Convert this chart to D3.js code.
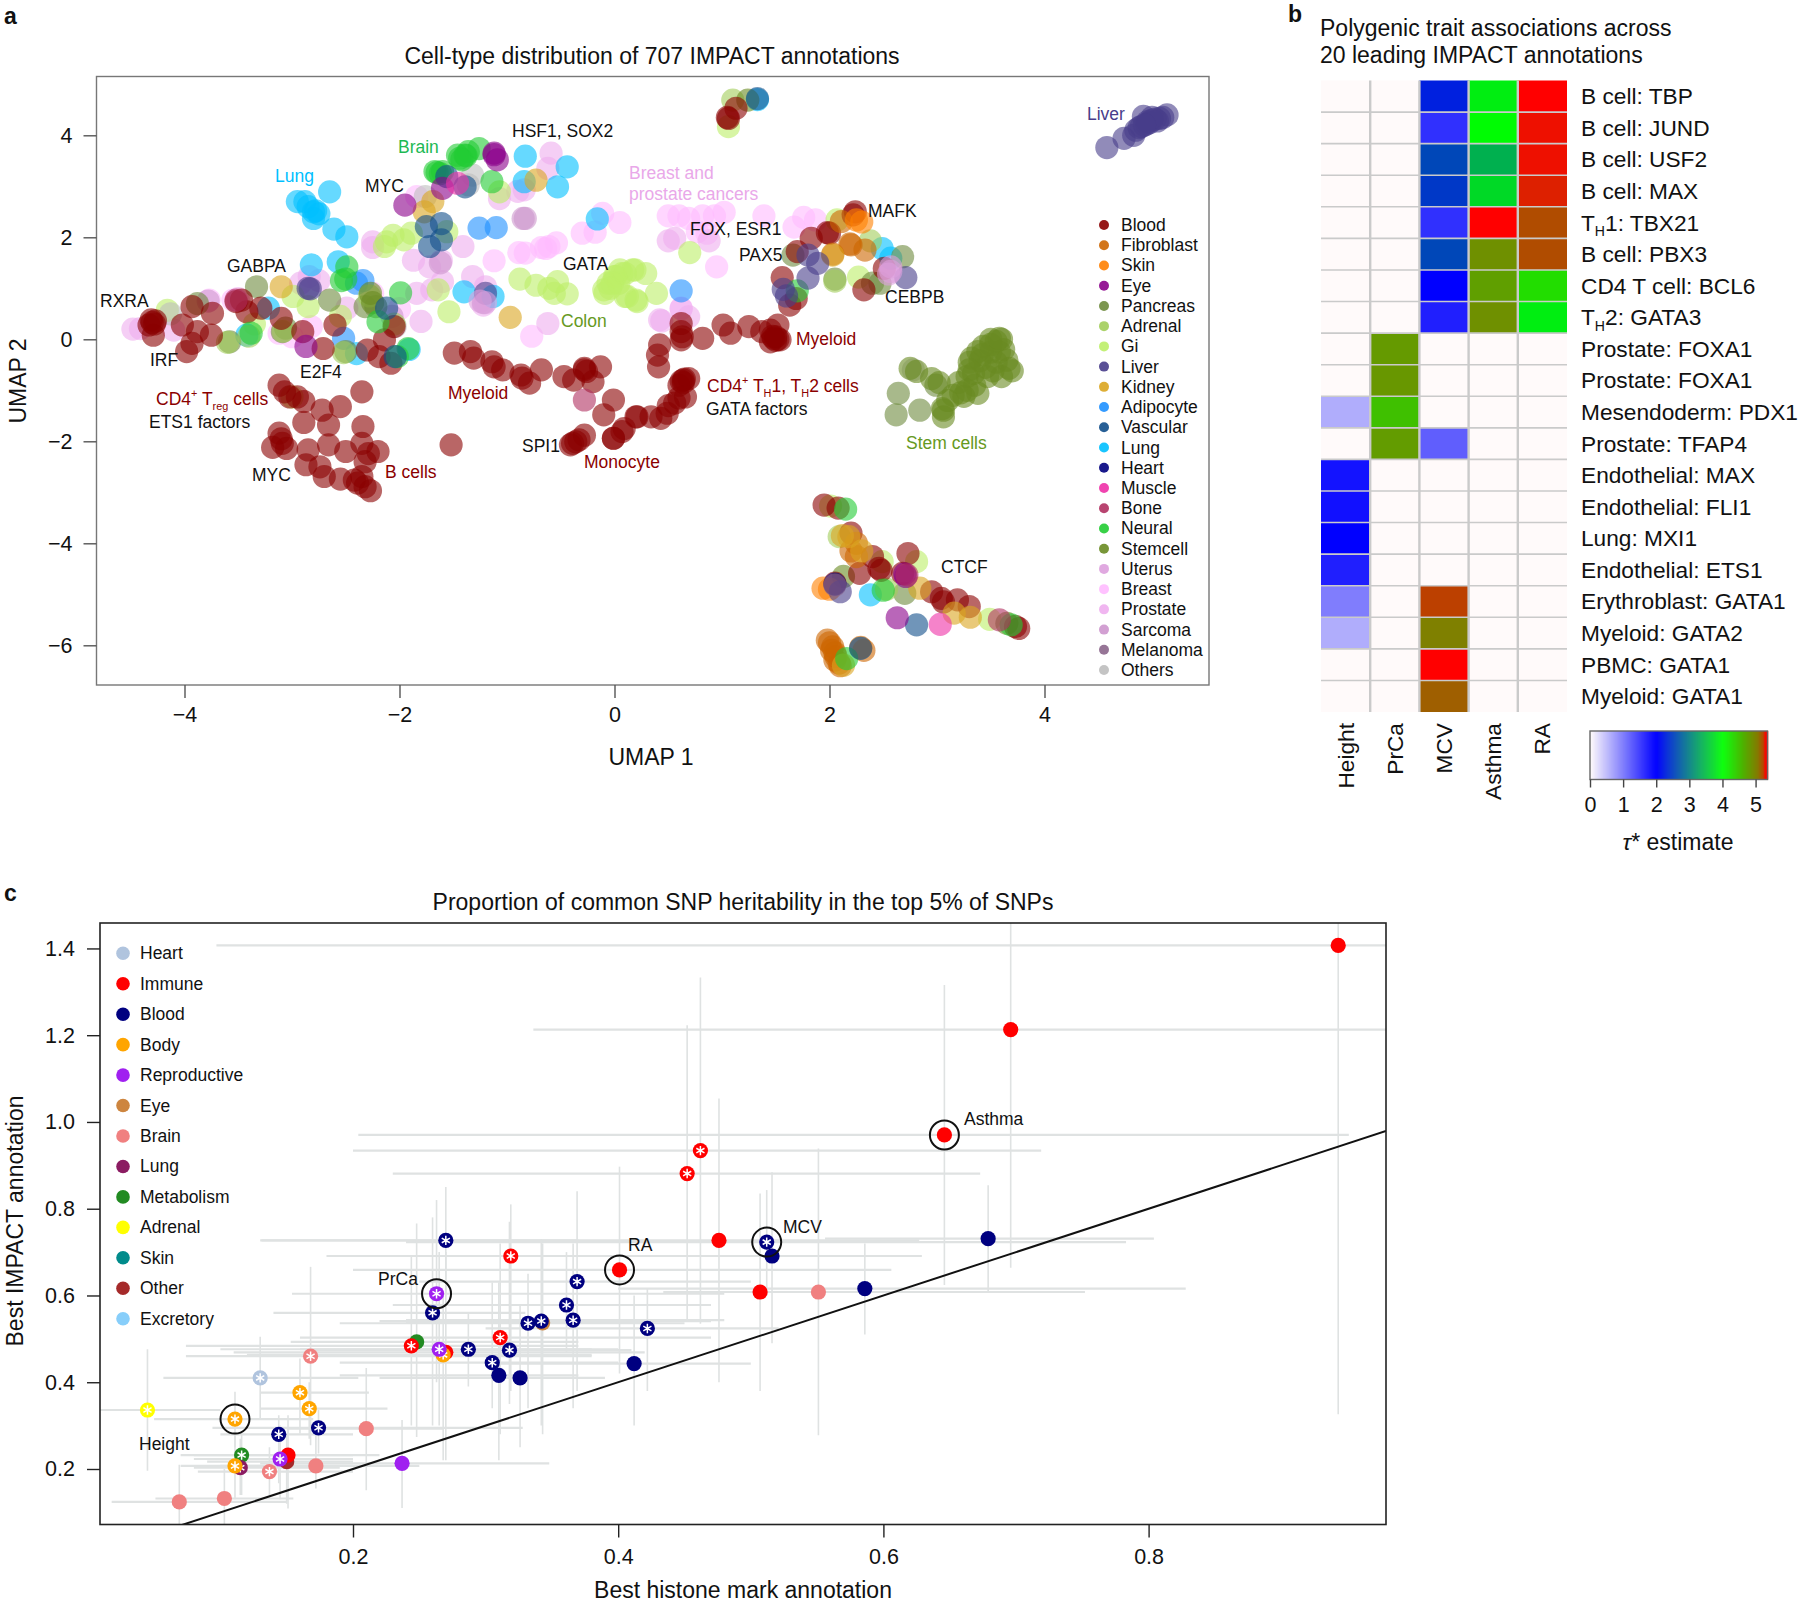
<!DOCTYPE html>
<html><head><meta charset="utf-8">
<script src="https://cdn.jsdelivr.net/npm/d3@7"></script>
<style>
html,body{margin:0;padding:0;background:#fff}
svg{display:block}
text{font-family:"Liberation Sans",Arial,sans-serif;fill:#111}
</style></head><body>
<svg id="chart" width="1800" height="1604"></svg>
<script>
// ---------- panel a: UMAP values by tissue ----------
const umapNames=["Blood","Fibroblast","Skin","Eye","Pancreas","Adrenal","Gi","Liver","Kidney","Adipocyte","Vascular","Lung","Heart","Muscle","Bone","Neural","Stemcell","Uterus","Breast","Prostate","Sarcoma","Melanoma","Others"];
const umapColors=["#8B0000","#CD6600","#FF8000","#8B008B","#6E8B3D","#A2CD5A","#BCEE68","#483D8B","#DAA520","#1E90FF","#104E8B","#00BFFF","#000080","#EE30A7","#B03060","#22CC33","#698B22","#DDA0DD","#FFBBFF","#EEAEEE","#CD96CD","#8B668B","#BEBEBE"];
const breast=[[-1.12,1.54],[-.89,1.70],[-.83,1.69],[-.68,1.80],[-.64,1.78],[-.61,1.82],[-.54,1.89],[-.30,2.08],[-.18,2.10],[.05,2.29],[-.11,2.47],[-.77,.06],[-1.84,2.8],[-3.77,.77],[-3.55,.77],[-3.12,.12],[-2.82,.25],[-3.0,.05],[.5,2.42],[.6,2.42],[.69,2.37],[.82,2.42],[.93,2.42],[1.02,2.49],[1.39,2.42],[1.76,2.39],[1.87,2.34],[1.67,2.2],[.95,1.42],[.77,2.11],[.86,2.08],[.62,.61],[-2.25,.9],[-2.0,.6]];
const prostate=[[-.59,3.65],[-.62,3.35],[-.84,2.93],[-1.07,2.76],[-.62,.31],[-1.32,1.23],[-1.22,.67],[-1.2,1.03],[-1.41,1.82],[-1.61,1.54],[-1.72,1.42],[-1.87,1.55],[-2.25,1.91],[-2.25,1.8],[-1.8,.35],[-1.84,.9],[-1.7,.97],[-1.6,1.13],[-2.49,.61],[-4.41,.21],[-4.48,.2],[-2.84,1.23],[-2.92,1.1],[-2.75,1.15],[-4.1,.18],[.5,1.93],[.56,1.98],[.88,1.93],[.42,.38],[.44,.36],[.62,.6],[.69,.44],[-.9,2.9],[-3.5,.8]];
const sarcoma=[[-.83,2.37],[-.85,2.37],[-1.62,1.5],[-1.22,.72],[-2.07,.45],[-3.78,.75]];
const gi=[[-.88,1.18],[-.73,1.06],[-.61,1.0],[-.53,1.13],[-.56,.9],[-.44,.89],[-1.54,.54],[-.1,.97],[-.06,1.1],[.0,1.23],[.07,1.29],[.17,1.36],[.29,1.29],[.2,.77],[.1,.84],[-.09,.9],[.04,1.1],[.12,.84],[.21,.74],[.39,.9],[.05,1.36],[.19,1.36],[.01,1.23],[.1,1.29],[-.02,1.1],[-.04,1.0],[-2.12,1.91],[-2.06,2.04],[-1.89,2.08],[-1.96,1.95],[-1.56,2.11],[-2.14,1.82],[-4.16,.57],[-2.99,.84],[-2.85,.64],[-1.07,2.89],[-1.64,.97],[.7,1.7],[2.07,2.34],[2.27,1.22],[-3.0,-1.13],[-2.55,.45],[-3.35,.3],[2.49,-4.36],[2.81,-4.36],[3.49,-5.49],[2.01,-3.27],[1.06,4.17]];
const stemcell=[[2.75,-.57],[2.81,-.63],[2.95,-.77],[3.02,-.85],[3.32,-.37],[3.38,-.24],[3.43,-.14],[3.5,.0],[3.6,.0],[3.55,-.04],[3.65,-.41],[3.67,-.57],[3.6,-.73],[3.47,-.73],[3.34,-.67],[3.28,-.73],[3.5,-.25],[3.4,-.42],[3.58,-.25],[3.25,-1.12],[3.38,-1.06],[3.06,-1.39],[3.06,-1.52],[3.05,-1.36],[3.22,-1.05],[3.3,-.45],[3.45,-.55],[3.55,-.45],[3.2,-.85],[3.1,-1.2],[3.35,-.9],[3.62,-.2],[3.52,-.62],[3.42,-.3],[3.5,-.1],[3.58,.02],[3.3,-.6],[3.7,-.62],[3.15,-1.1],[3.28,-1.0],[1.24,4.69],[3.65,-5.57],[2.13,-4.65],[-2.27,.9],[-2.25,.72]];
const pancreas=[[-3.33,1.03],[-3.58,-.05],[-2.65,.77],[-2.32,.64],[-2.22,.64],[-3.09,.15],[-3.06,.22],[-2.5,-.24],[2.05,1.18],[2.68,1.62],[2.4,1.1],[2.47,1.1],[-3.88,.7],[1.66,1.65],[2.64,-1.06],[2.62,-1.48],[2.84,-1.39],[2.99,-.9],[2.7,-4.98]];
const adrenal=[[-2.28,.85],[-3.08,.16],[-2.52,-.26],[2.38,1.93],[1.1,4.69],[2.05,1.14],[2.09,-3.87],[2.53,-4.9],[-2.05,.3],[-3.6,-.06],[-3.4,.06]];
const blood=[[-4.31,.38],[-4.33,.28],[-4.29,.08],[-4.28,.3],[-4.3,.33],[-4.27,.36],[-3.93,.64],[-3.74,.51],[-4.02,.28],[-3.98,-.24],[-3.93,-.08],[-3.88,.15],[-3.75,.08],[-3.52,.74],[-3.47,.77],[-3.42,.54],[-3.29,.61],[-3.1,.41],[-2.9,.15],[-2.71,-.18],[-2.6,.28],[-2.3,-.21],[-2.14,-.01],[-2.19,-.34],[-2.08,-.47],[-2.05,.25],
[-1.49,-.27],[-1.34,-.24],[-1.31,-.37],[-1.14,-.44],[-1.12,-.54],[-1.04,-.60],[-.87,-.70],[-.86,-.76],[-.68,-.6],[-.79,-.86],[-.47,-.73],[-.38,-.8],[-.28,-.57],[-.26,-.63],[-.28,-.6],[-.13,-.54],[-.2,-.83],[-.01,-1.19],[-.1,-1.48],[.2,-1.52],[-.01,-1.94],[.07,-1.81],
[-.41,-2.07],[-.36,-2.01],[-.28,-1.88],[-.39,-2.04],[-.33,-1.97],
[-3.12,-.9],[-3.07,-1.03],[-3.02,-1.13],[-2.95,-1.13],[-2.89,-1.22],[-2.35,-1.03],[-2.72,-1.39],[-2.55,-1.32],[-2.89,-1.63],[-2.66,-1.68],[-2.34,-1.71],[-1.52,-2.07],[-3.12,-1.84],[-3.09,-2.04],[-3.18,-2.12],[-3.05,-2.14],[-3.1,-1.95],[-2.85,-2.17],[-2.66,-2.07],[-2.5,-2.2],[-2.35,-2.04],[-2.29,-2.24],[-2.2,-2.2],[-2.32,-2.4],[-2.87,-2.46],[-2.74,-2.5],[-2.7,-2.69],[-2.55,-2.74],[-2.42,-2.76],[-2.39,-2.82],[-2.32,-2.89],[-2.27,-2.97],[-2.35,-2.69],
[1.13,4.53],[1.05,4.35],[1.06,4.33],[2.24,2.5],[2.22,2.44],[1.98,2.09],[2.0,2.08],[1.83,1.98],[1.7,1.72],[1.56,1.21],[1.63,.67],[1.69,.8],[2.32,.97],[2.51,1.39],
[1.01,.28],[1.08,.12],[1.25,.25],[1.37,.15],[1.45,.18],[1.52,.28],[1.54,-.01],[1.48,.02],[1.45,-.05],[1.5,.05],[1.5,-.02],[1.52,.0],[1.47,.06],[.82,.02],[.62,.31],[.62,.15],[.62,-.01],[.63,.05],[.42,-.11],[.4,-.31],[.41,-.54],[.64,-.8],[.69,-.77],[.62,-.82],[.6,-.9],[.64,-.85],[.65,-.78],
[.56,-1.25],[.49,-1.45],[.43,-1.55],[.34,-1.52],[.21,-1.52],[.09,-1.75],[-.01,-1.94],[.66,-1.13],[.6,-1.15],[.5,-1.3],
[1.95,-3.25],[2.08,-3.31],[2.2,-3.8],[2.4,-4.26],[2.46,-4.49],[2.48,-4.53],[2.28,-4.59],[2.73,-4.2],[2.68,-4.59],[2.95,-4.95],[3.04,-5.08],[3.06,-5.15],[3.19,-5.11],[3.3,-5.24],[3.76,-5.67],[3.73,-5.63],[2.05,-4.78]];
const fibroblast=[[2.11,2.31],[2.19,1.87],[2.03,1.67],[2.33,1.75],[2.2,1.85],[2.25,-4.0],[2.25,-4.26],[2.2,-4.15],[1.98,-5.9],[2.0,-5.95],[2.03,-6.03],[2.05,-6.29],[2.09,-6.35],[2.05,-6.15],[2.06,-6.22],[2.02,-6.1],[2.1,-6.4],[2.32,-6.1]];
const skin=[[2.25,2.34],[2.3,2.3],[1.94,-4.88],[2.29,-6.04],[2.0,-4.9]];
const kidney=[[-3.1,1.03],[-.97,.43],[-1.69,2.7],[-1.77,2.5],[-.73,3.12],[2.03,1.65],[2.18,-3.87],[2.12,-3.85],[2.84,-4.88],[3.16,-5.37],[3.31,-5.45],[2.13,-6.39],[2.3,-4.15]];
const adipocyte=[[-1.26,2.18],[-1.1,2.19],[-2.34,1.15],[-2.52,.02],[.62,.95],[-2.4,1.1],[2.29,-6.05]];
const lung=[[-2.65,2.89],[-2.95,2.70],[-2.88,2.70],[-2.85,2.60],[-2.80,2.50],[-2.75,2.46],[-2.80,2.37],[-2.78,2.52],[-2.61,2.16],[-2.49,2.01],[-.16,2.36],[-.83,3.59],[-.53,2.99],[-.84,3.09],[-1.40,.93],[-1.13,.84],[-2.82,1.46],[-2.57,1.52],[-2.40,-.28],[-1.91,-.20],[-3.22,.61],[-3.42,.08],[-.44,3.38],[1.33,4.70],[2.49,1.78],[2.57,1.59],[2.38,-5.01]];
const neural=[[-1.26,3.74],[-1.39,3.61],[-1.46,3.61],[-1.36,3.68],[-1.38,3.6],[-1.44,3.55],[-1.67,3.29],[-1.6,3.29],[-1.65,3.27],[-1.62,3.25],[-1.42,3.52],[-1.14,3.09],[-1.99,.91],[-2.54,1.15],[-2.49,1.42],[-2.2,.345],[-3.38,.12],[-1.92,-.18],[-2.02,-.34],[2.15,-3.33],[2.16,-6.26],[2.5,-4.92],[3.69,-5.6],[1.7,.95],[-2.5,1.18]];
const vascular=[[-1.61,2.27],[-1.75,2.21],[-1.61,1.95],[-1.72,1.82],[-1.56,3.19],[-1.39,2.99],[-2.04,-.34],[-2.12,.61],[1.33,4.72],[2.81,-5.6],[2.29,-6.06]];
const liver=[[4.58,3.76],[4.74,3.94],[4.83,4.0],[4.9,4.17],[4.96,4.27],[5.0,4.3],[5.07,4.33],[5.14,4.4],[4.92,4.37],[4.88,4.15],[4.98,4.25],[5.03,4.32],[5.05,4.28],[5.1,4.35],[4.95,4.22],[4.85,4.1],[5.0,4.35],[4.93,4.2],[-2.83,.99],[-2.85,1.0],[1.8,1.65],[1.89,1.49],[1.8,1.2],[1.57,.98],[1.6,.85],[2.71,1.21],[-1.2,.9],[2.1,-4.95]];
const eye=[[-1.95,2.63],[-1.12,3.65],[-1.09,3.52],[-1.12,3.62],[-2.87,-.14],[-1.6,2.96],[2.71,-4.65],[2.63,-5.46],[2.7,-4.6]];
const heart=[[2.05,-4.8]];
const muscle=[[-1.46,3.06],[3.03,-5.59]];
const bone=[[-.28,-1.19],[-3.52,.77],[2.72,-4.62],[3.58,-5.5]];
const uterus=[[2.57,1.33],[2.57,1.42],[2.55,1.28],[-1.25,.75],[-1.2,.72]];
const melanoma=[[2.05,-4.82]];
const others=[[-1.76,2.8],[-1.32,3.22],[-1.36,3.03],[-2.04,.25],[-4.13,.5],[2.78,-.6]];
// drawing order of the tissue groups
const umapLayers=[["Breast",breast],["Prostate",prostate],["Sarcoma",sarcoma],["Gi",gi],["Others",others],["Lung",lung],["Adipocyte",adipocyte],["Pancreas",pancreas],["Adrenal",adrenal],["Stemcell",stemcell],["Blood",blood],["Fibroblast",fibroblast],["Skin",skin],["Kidney",kidney],["Neural",neural],["Vascular",vascular],["Liver",liver],["Eye",eye],["Heart",heart],["Muscle",muscle],["Bone",bone],["Uterus",uterus],["Melanoma",melanoma]];
const umapXTicks=[-4,-2,0,2,4], umapYTicks=[-6,-4,-2,0,2,4];

// ---------- panel b ----------
const traits=["Height","PrCa","MCV","Asthma","RA"];
const annotations=[["B cell: TBP"],["B cell: JUND"],["B cell: USF2"],["B cell: MAX"],["T","H","1: TBX21"],["B cell: PBX3"],["CD4 T cell: BCL6"],["T","H","2: GATA3"],["Prostate: FOXA1"],["Prostate: FOXA1"],["Mesendoderm: PDX1"],["Prostate: TFAP4"],["Endothelial: MAX"],["Endothelial: FLI1"],["Lung: MXI1"],["Endothelial: ETS1"],["Erythroblast: GATA1"],["Myeloid: GATA2"],["PBMC: GATA1"],["Myeloid: GATA1"]];
const tauHeight=[0,0,0,0,0,0,0,0,0,0,.62,0,1.85,1.87,2,1.75,1,.62,0,0];
const tauPrCa=[0,0,0,0,0,0,0,0,4.8,4.82,4.5,4.78,0,0,0,0,0,0,0,0];
const tauMCV=[2.25,1.62,2.56,2.44,1.62,2.56,2,1.75,0,0,0,1.25,0,0,0,0,5.24,5.0,5.32,5.14];
const tauAsthma=[3.87,3.98,3.38,3.7,5.32,4.88,4.76,4.88,0,0,0,0,0,0,0,0,0,0,0,0];
const tauRA=[5.32,5.275,5.275,5.25,5.2,5.2,4.27,3.87,0,0,0,0,0,0,0,0,0,0,0,0];
const tauColumns=[tauHeight,tauPrCa,tauMCV,tauAsthma,tauRA];
const tauStops=[0,2,4,5.05,5.24,5.25,5.3,5.36];
const tauStopColors=["#fffafa","#0000ff","#00ff00","#857a00","#bc4000","#dd2000","#ff0000","#ff0000"];
const tauTicks=[0,1,2,3,4,5];

// ---------- panel c: [histone, impact, xLow, xHigh, yLow, yHigh, significant] ----------
const tissueNames=["Heart","Immune","Blood","Body","Reproductive","Eye","Brain","Lung","Metabolism","Adrenal","Skin","Other","Excretory"];
const tissueColors=["#B0C4DE","#FF0000","#000080","#FFA500","#A020F0","#CD853F","#F08080","#8B1C62","#228B22","#FFFF00","#008B8B","#A52A2A","#87CEFA"];
const heartSnp=[[.130,.410,.057,.204,.313,.505,1]];
const immuneSnp=[[.943,1.407,.097,1.1,.326,1.6,0],[.696,1.213,.336,1.1,.664,1.6,0],[.646,.970,.204,.951,.624,1.316,0],[.462,.934,.2,.719,.535,1.333,1],[.452,.881,.23,.673,.543,1.223,1],[.476,.727,.131,.627,.40,1.054,0],[.507,.608,.434,.738,.38,.835,0],[.401,.659,.2,.606,.42,.897,0],[.319,.691,.18,.46,.38,.81,1],[.311,.503,.16,.47,.28,.72,1],[.244,.484,.074,.37,.30,.69,1],[.27,.469,.11,.42,.22,.70,0],[.151,.232,.08,.22,.109,.324,0]];
const bloodSnp=[[.512,.723,.24,.783,.6,.843,1],[.516,.691,.25,.629,.49,.884,0],[.679,.731,.556,.804,.608,.854,0],[.586,.616,.4,.828,.51,.72,0],[.422,.524,.3,.521,.38,.615,1],[.412,.443,.3,.5,.30,.60,0],[.369,.632,.25,.50,.38,.84,1],[.361,.578,.23,.47,.47,.70,1],[.366,.543,.24,.48,.34,.72,1],[.342,.541,.22,.47,.30,.73,1],[.332,.536,.19,.45,.34,.65,1],[.326,.410,.22,.39,.25,.58,0],[.318,.474,.17,.41,.35,.77,1],[.310,.416,.19,.37,.22,.63,0],[.305,.445,.19,.40,.34,.63,1],[.287,.476,.16,.38,.39,.56,1],[.270,.727,.13,.37,.60,.85,1],[.260,.560,.14,.33,.30,.78,1],[.174,.295,.094,.328,.236,.336,1],[.144,.280,.1,.2,.167,.324,1]];
const bodySnp=[[.268,.463,.12,.38,.22,.60,1],[.160,.376,.13,.212,.282,.455,1],[.167,.339,.13,.226,.27,.40,1],[.111,.315,.05,.17,.25,.378,1],[.111,.207,.07,.2,.13,.28,1]];
const reproSnp=[[.263,.604,.154,.48,.40,.82,1],[.265,.476,.10,.40,.30,.70,1],[.237,.213,.13,.348,.11,.313,0],[.145,.223,.08,.2,.13,.30,1]];
const eyeSnp=[[.343,.537,.24,.42,.28,.72,0]];
const brainSnp=[[.551,.608,.44,.752,.278,.939,0],[.168,.460,.074,.38,.255,.666,1],[.210,.293,.15,.268,.151,.433,0],[.137,.194,.083,.2,.14,.25,1],[.172,.207,.1,.25,.155,.282,0],[.069,.124,.018,.15,.073,.21,0],[.103,.132,.051,.155,.073,.2,0]];
const lungSnp=[[.115,.203,.08,.19,.14,.27,1]];
const metabolismSnp=[[.248,.493,.153,.37,.274,.766,0],[.116,.232,.07,.2,.14,.282,1]];
const adrenalSnp=[[.045,.336,.0,.1,.196,.476,1]];
const otherSnp=[[.150,.217,.09,.2,.12,.28,0]];
const snpLayers=[["Heart",heartSnp],["Other",otherSnp],["Eye",eyeSnp],["Metabolism",metabolismSnp],["Brain",brainSnp],["Adrenal",adrenalSnp],["Immune",immuneSnp],["Blood",bloodSnp],["Lung",lungSnp],["Body",bodySnp],["Reproductive",reproSnp]];
const circled=[[.646,.970],[.512,.723],[.401,.659],[.263,.604],[.111,.315]];
const snpXTicks=[.2,.4,.6,.8], snpYTicks=[.2,.4,.6,.8,1,1.2,1.4];

// ---------- drawing ----------
const svg=d3.select("#chart");
const SANS=17.5, BIG=23, TICK=21.5;
const umapColor=d3.scaleOrdinal(umapNames,umapColors);
const tissueColor=d3.scaleOrdinal(tissueNames,tissueColors);
const text=(g,x,y,s,o={})=>g.append("text").attr("x",x).attr("y",y).attr("font-size",o.size||SANS).attr("text-anchor",o.anchor||"start").attr("font-weight",o.weight||null).attr("dominant-baseline","central").style("fill",o.fill||"#111").text(s);

function axisStyle(g,col){
  g.select(".domain").remove();
  g.selectAll(".tick line").attr("stroke",col).attr("stroke-width",1.4);
  g.selectAll(".tick text").attr("font-size",TICK).style("font-family",'"Liberation Sans",Arial,sans-serif').style("fill","#111");
}
// --- a ---
const ua={l:96.5,r:1209,t:76.5,b:685};
const ux=d3.scaleLinear().domain([(ua.l-614.5)/107.5,(ua.r-614.5)/107.5]).range([ua.l,ua.r]);
const uy=d3.scaleLinear().domain([(339.3-ua.b)/51,(339.3-ua.t)/51]).range([ua.b,ua.t]);
const ga=svg.append("g");
umapLayers.forEach(([name,pts])=>{
  ga.append("g").selectAll("circle").data(pts).join("circle")
    .attr("cx",d=>ux(d[0])).attr("cy",d=>uy(d[1])).attr("r",11.6)
    .attr("fill",umapColor(name)).attr("fill-opacity",.6);
});
ga.append("rect").attr("x",ua.l).attr("y",ua.t).attr("width",ua.r-ua.l).attr("height",ua.b-ua.t).attr("fill","none").attr("stroke","#777").attr("stroke-width",1.4);
const axA=ga.append("g").attr("transform",`translate(0,${ua.b})`).call(d3.axisBottom(ux).tickValues(umapXTicks).tickSize(13).tickPadding(9).tickFormat(d3.format("d")));
axisStyle(axA,"#555");
const ayA=ga.append("g").attr("transform",`translate(${ua.l},0)`).call(d3.axisLeft(uy).tickValues(umapYTicks).tickSize(13).tickPadding(11).tickFormat(d3.format("d")));
axisStyle(ayA,"#555");
text(ga,652,56,"Cell-type distribution of 707 IMPACT annotations",{size:BIG,anchor:"middle"});
text(ga,651,757,"UMAP 1",{size:BIG,anchor:"middle"});
ga.append("text").attr("transform","translate(18,381) rotate(-90)").attr("text-anchor","middle").attr("dominant-baseline","central").attr("font-size",BIG).text("UMAP 2");
// legend a
umapNames.forEach((n,i)=>{
  const y=225+i*20.23;
  ga.append("circle").attr("cx",1104).attr("cy",y).attr("r",5).attr("fill",umapColor(n)).attr("fill-opacity",.9);
  text(ga,1121,y,n);
});
// labels a
const BK="#111",DR="#8B0000",GR="#669922";
[["Liver",1087,114,"#483D8B"],["HSF1, SOX2",512,131,BK],["Brain",398,147,"#1DB954"],["Lung",275,176,"#00BFFF"],["MYC",365,186,BK],["Breast and",629,173,"#E9A8E9"],["prostate cancers",629,194,"#E9A8E9"],["MAFK",868,211,BK],["FOX, ESR1",690,229,BK],["PAX5",739,255,BK],["GABPA",227,266,BK],["GATA",563,264,BK],["CEBPB",885,297,BK],["RXRA",100,301,BK],["Colon",561,321,GR],["IRF",150,360,BK],["E2F4",300,372,BK],["Myeloid",796,339,DR],["Myeloid",448,393,DR],["ETS1 factors",149,422,BK],["GATA factors",706,409,BK],["Stem cells",906,443,GR],["SPI1",522,446,BK],["Monocyte",584,462,DR],["MYC",252,475,BK],["B cells",385,472,DR],["CTCF",941,567,BK]]
 .forEach(([s,x,y,c])=>text(ga,x,y,s,{fill:c}));
function subLabel(g,x,y,parts,fill,size){
  const t=g.append("text").attr("x",x).attr("y",y).attr("font-size",size).attr("dominant-baseline","central").style("fill",fill);
  parts.forEach(([s,mode])=>{
    const sp=t.append("tspan").text(s);
    if(mode==="sup") sp.attr("font-size",size*.62).attr("dy",-size*.32);
    else if(mode==="sub") sp.attr("font-size",size*.62).attr("dy",size*.38);
    else if(mode==="up") sp.attr("dy",size*.32);
    else if(mode==="dn") sp.attr("dy",-size*.38);
  });
}
subLabel(ga,156,399,[["CD4"],["+","sup"],[" T","up"],["reg","sub"],[" cells","dn"]],DR,SANS);
subLabel(ga,707,386,[["CD4"],["+","sup"],[" T","up"],["H","sub"],["1, T","dn"],["H","sub"],["2 cells","dn"]],DR,SANS);

// --- b ---
const gb=svg.append("g");
const bx=d3.scaleBand().domain(traits).range([1321,1567]);
const by=d3.scaleBand().domain(d3.range(annotations.length)).range([80.5,712]);
const tauColor=d3.scaleLinear().domain(tauStops).range(tauStopColors);
const gridC="#cacaca";
traits.forEach((t,c)=>{
  gb.append("g").selectAll("rect").data(tauColumns[c]).join("rect")
    .attr("x",bx(t)).attr("y",(d,i)=>by(i)).attr("width",bx.bandwidth()).attr("height",by.bandwidth())
    .attr("fill",d=>tauColor(d)).attr("stroke","none");
});
by.domain().slice(1).forEach(i=>gb.append("line").attr("x1",1321).attr("x2",1567).attr("y1",by(i)).attr("y2",by(i)).attr("stroke",gridC).attr("stroke-width",1.6));
traits.slice(1).forEach(t=>gb.append("line").attr("x1",bx(t)).attr("x2",bx(t)).attr("y1",80.5).attr("y2",712).attr("stroke",gridC).attr("stroke-width",2.4));
text(gb,1320,28,"Polygenic trait associations across",{size:BIG});
text(gb,1320,55,"20 leading IMPACT annotations",{size:BIG});
annotations.forEach((p,i)=>{
  const y=by(i)+by.bandwidth()/2;
  if(p.length===1) text(gb,1581,y,p[0],{size:22.7});
  else subLabel(gb,1581,y,[[p[0]],[p[1],"sub"],[p[2],"dn"]],"#111",22.7);
});
traits.forEach(t=>{
  gb.append("text").attr("transform",`translate(${bx(t)+bx.bandwidth()/2},723) rotate(-90)`).attr("text-anchor","end").attr("dominant-baseline","central").attr("font-size",22.7).text(t);
});
const cb=d3.scaleLinear().domain([0,5.36]).range([1590,1767.5]);
gb.append("g").selectAll("rect").data(d3.range(0,5.36,.03)).join("rect")
  .attr("x",d=>cb(d)).attr("y",731).attr("width",1.4).attr("height",48.5).attr("fill",d=>tauColor(d));
gb.append("rect").attr("x",1590).attr("y",731).attr("width",177.5).attr("height",48.5).attr("fill","none").attr("stroke","#666").attr("stroke-width",1.4);
const axB=gb.append("g").attr("transform","translate(0,779.5)").call(d3.axisBottom(cb).tickValues(tauTicks).tickSize(8).tickPadding(9).tickFormat(d3.format("d")));
axisStyle(axB,"#444");
const tauLab=text(gb,1678,842,"",{size:BIG,anchor:"middle"});
tauLab.append("tspan").attr("font-style","italic").text("τ");
tauLab.append("tspan").text("* estimate");

// --- c ---
const ca={l:100,r:1386,t:923,b:1524.5};
const sx=d3.scaleLinear().domain([.2+(ca.l-353)/1326,.2+(ca.r-353)/1326]).range([ca.l,ca.r]);
const sy=d3.scaleLinear().domain([.2+(1469-ca.b)/433.8,.2+(1469-ca.t)/433.8]).range([ca.b,ca.t]);
const gc=svg.append("g");
svg.append("clipPath").attr("id","cc").append("rect").attr("x",ca.l).attr("y",ca.t).attr("width",ca.r-ca.l).attr("height",ca.b-ca.t);
const inner=gc.append("g").attr("clip-path","url(#cc)");
const allSnp=snpLayers.flatMap(([n,a])=>a);
inner.append("g").selectAll("line.h").data(allSnp).join("line").attr("x1",d=>sx(d[2])).attr("x2",d=>sx(d[3])).attr("y1",d=>sy(d[1])).attr("y2",d=>sy(d[1])).attr("stroke","#dfe2e2").attr("stroke-width",2.2);
inner.append("g").selectAll("line.v").data(allSnp).join("line").attr("x1",d=>sx(d[0])).attr("x2",d=>sx(d[0])).attr("y1",d=>sy(d[4])).attr("y2",d=>sy(d[5])).attr("stroke","#dfe2e2").attr("stroke-width",1.6);
const ln=d3.line().x(d=>sx(d)).y(d=>sy(d));
inner.append("path").attr("d",ln(sx.domain())).attr("stroke","#111").attr("stroke-width",2).attr("fill","none");
snpLayers.forEach(([n,a])=>{
  const g=inner.append("g");
  g.selectAll("circle").data(a).join("circle").attr("cx",d=>sx(d[0])).attr("cy",d=>sy(d[1])).attr("r",7.6).attr("fill",tissueColor(n));
  g.selectAll("path").data(a.filter(d=>d[6])).join("path")
    .attr("transform",d=>`translate(${sx(d[0])},${sy(d[1])})`)
    .attr("d",d3.symbol(d3.symbolAsterisk,62)).attr("stroke","#fff").attr("stroke-width",1.5).attr("fill","none");
});
inner.append("g").selectAll("circle").data(circled).join("circle").attr("cx",d=>sx(d[0])).attr("cy",d=>sy(d[1])).attr("r",14.5).attr("fill","none").attr("stroke","#111").attr("stroke-width",2);
gc.append("rect").attr("x",ca.l).attr("y",ca.t).attr("width",ca.r-ca.l).attr("height",ca.b-ca.t).attr("fill","none").attr("stroke","#222").attr("stroke-width",1.6);
const axC=gc.append("g").attr("transform",`translate(0,${ca.b})`).call(d3.axisBottom(sx).tickValues(snpXTicks).tickSize(13).tickPadding(11).tickFormat(d3.format(".1f")));
axisStyle(axC,"#222");
const ayC=gc.append("g").attr("transform",`translate(${ca.l},0)`).call(d3.axisLeft(sy).tickValues(snpYTicks).tickSize(13).tickPadding(12).tickFormat(d3.format(".1f")));
axisStyle(ayC,"#222");
text(gc,743,902,"Proportion of common SNP heritability in the top 5% of SNPs",{size:BIG,anchor:"middle"});
text(gc,743,1590,"Best histone mark annotation",{size:BIG,anchor:"middle"});
gc.append("text").attr("transform","translate(15,1221) rotate(-90)").attr("text-anchor","middle").attr("dominant-baseline","central").attr("font-size",BIG).text("Best IMPACT annotation");
tissueNames.forEach((n,i)=>{
  const y=953.3+i*30.45;
  gc.append("circle").attr("cx",123).attr("cy",y).attr("r",6.8).attr("fill",tissueColor(n));
  text(gc,140,y,n);
});
[["Asthma",964,1119],["MCV",783,1227],["RA",628,1245],["PrCa",378,1279],["Height",139,1444]].forEach(([s,x,y])=>text(gc,x,y,s));
// panel letters
[["a",4,16],["b",1288,14],["c",4,893]].forEach(([s,x,y])=>text(svg,x,y,s,{size:23,weight:"bold"}));
</script>
</body></html>
